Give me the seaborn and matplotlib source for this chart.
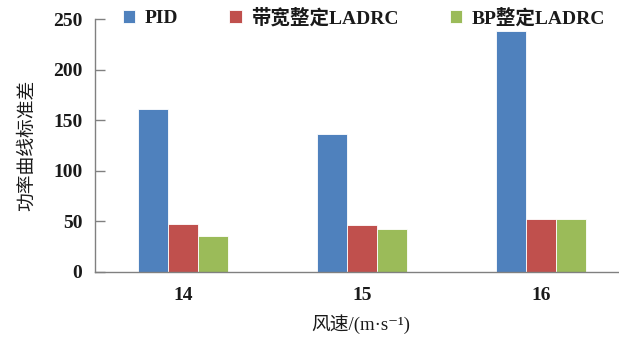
import matplotlib
matplotlib.use("Agg")
import matplotlib.pyplot as plt
import seaborn as sns
import pandas as pd

categories = ["14", "15", "16"]
series_names = ["PID", "带宽整定LADRC", "BP整定LADRC"]
pid_values = [161, 136, 238]
bw_values = [47, 46.5, 52.5]
bp_values = [35.5, 42.5, 52.5]
yticks = [0, 50, 100, 150, 200, 250]

colors = ["#4F81BD", "#C0504D", "#9BBB59"]

sns.set_theme(style="white")
plt.rcParams["font.family"] = ["Liberation Serif", "Noto Sans CJK SC", "DejaVu Sans"]

rows = []
for name, vals in zip(series_names, [pid_values, bw_values, bp_values]):
    for c, v in zip(categories, vals):
        rows.append({"wind": c, "series": name, "value": v})
df = pd.DataFrame(rows)

fig = plt.figure(figsize=(6.19, 3.37), dpi=100)
ax = fig.add_axes([95 / 619, 1 - 272 / 337, 1 - 95 / 619, (272 - 19) / 337])

sns.barplot(data=df, x="wind", y="value", hue="series", order=categories,
            hue_order=series_names, palette=colors, saturation=1, width=0.5, gap=0,
            edgecolor="white", linewidth=0.6, ax=ax, legend=True)

ax.set_ylim(0, 250)
ax.set_xlim(-0.49, 2.436)
ax.set_yticks(yticks)
ax.set_yticklabels([str(t) for t in yticks])
for s in ["top", "right"]:
    ax.spines[s].set_visible(False)
for s in ["left", "bottom"]:
    ax.spines[s].set_color("#808080")
    ax.spines[s].set_linewidth(1.0)
ax.tick_params(axis="y", which="both", left=True, direction="in", length=7, width=1.0,
               color="#808080", labelsize=14, pad=9)
ax.tick_params(axis="x", bottom=False, labelsize=14, pad=5)
for lab in ax.get_xticklabels() + ax.get_yticklabels():
    lab.set_fontweight("bold")
    lab.set_color("#1a1a1a")

ax.set_ylabel("功率曲线标准差", fontsize=13.5, color="#1a1a1a", labelpad=12)
ax.set_xlabel("风速/(m·s⁻¹)", fontsize=13.5, color="#1a1a1a")
ax.xaxis.set_label_coords((361 - 95) / (619 - 95), -0.165)

handles, labels = ax.get_legend_handles_labels()
ax.get_legend().remove()
leg = fig.legend(handles, labels, loc="center", bbox_to_anchor=(0.588, 0.948),
                 ncol=3, frameon=False, handlelength=0.65, handleheight=0.65,
                 handletextpad=0.5, columnspacing=2.6,
                 prop={"size": 14, "weight": "bold"})
for t in leg.get_texts():
    t.set_color("#1a1a1a")

fig.savefig("out.png", dpi=100)
